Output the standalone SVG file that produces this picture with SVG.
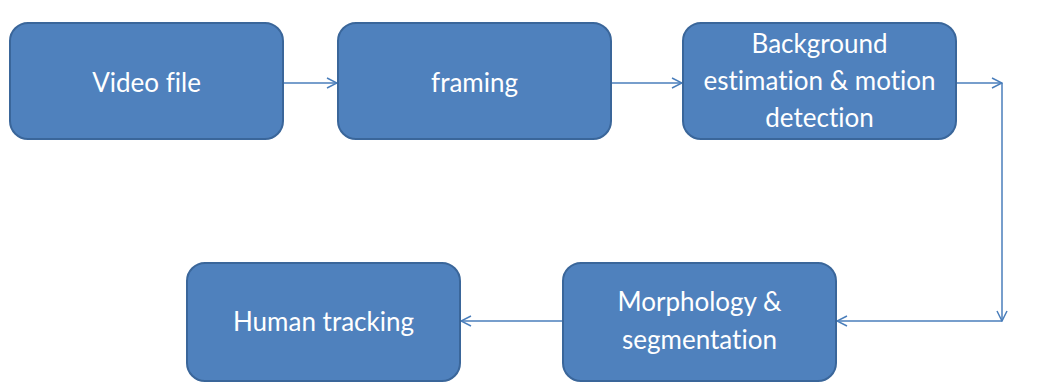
<svg xmlns="http://www.w3.org/2000/svg" width="1040" height="388" viewBox="0 0 1040 388">
<style>
.box{fill:#4F81BD;stroke:#3A669A;stroke-width:2}
.t{font-family:Lato,"Liberation Sans",sans-serif;font-size:26px;fill:#FFFFFF;text-anchor:middle;font-variant-ligatures:none}
.c{fill:none;stroke:#4A7EBB;stroke-width:1.5}
</style>
<defs>
<marker id="ah" viewBox="0 0 12 12" refX="11" refY="6" markerWidth="12" markerHeight="12" markerUnits="userSpaceOnUse" orient="auto">
<path d="M1,1 L11,6 L1,11" fill="none" stroke="#4A7EBB" stroke-width="1.5"/>
</marker>
</defs>
<rect width="1040" height="388" fill="#FFFFFF"/>
<g id="connectors">
<path class="c" d="M283,83 L337,83" marker-end="url(#ah)"/>
<path class="c" d="M611,83 L682,83" marker-end="url(#ah)"/>
<path class="c" d="M956,83 L1002,83" marker-end="url(#ah)"/>
<path class="c" d="M1002,83 L1002,321" marker-end="url(#ah)"/>
<path class="c" d="M1002,321 L837,321" marker-end="url(#ah)"/>
<path class="c" d="M563,321 L461,321" marker-end="url(#ah)"/>
</g>
<g id="video-file">
<rect class="box" x="10" y="23" width="273" height="116" rx="18"/>
<text class="t" x="146.5" y="92">Video file</text>
</g>
<g id="framing">
<rect class="box" x="338" y="23" width="273" height="116" rx="18"/>
<text class="t" x="474.5" y="92">framing</text>
</g>
<g id="background">
<rect class="box" x="683" y="23" width="273" height="116" rx="18"/>
<text class="t" x="819.5" y="53">Background</text>
<text class="t" x="819.5" y="90">estimation &amp; motion</text>
<text class="t" x="819.5" y="127">detection</text>
</g>
<g id="morphology">
<rect class="box" x="563" y="263" width="273" height="118" rx="18"/>
<text class="t" x="699.5" y="311">Morphology &amp;</text>
<text class="t" x="699.5" y="349">segmentation</text>
</g>
<g id="human-tracking">
<rect class="box" x="187" y="263" width="273" height="118" rx="18"/>
<text class="t" x="323.5" y="331">Human tracking</text>
</g>
</svg>
